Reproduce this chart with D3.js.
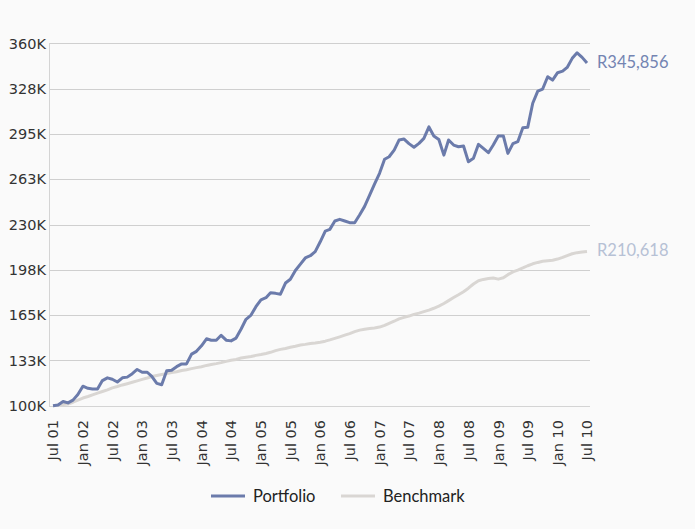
<!DOCTYPE html>
<html>
<head>
<meta charset="utf-8">
<script src="https://cdn.jsdelivr.net/npm/d3@7"></script>
<style>
  html, body { margin: 0; padding: 0; background: #fafafa; }
  svg { display: block; }
</style>
</head>
<body>
<svg id="chart" width="695" height="529"></svg>
<script>
// monthly values in thousands, Jul 2001 .. Jul 2010
const portfolio = [100,100.5,103,102,104,108,114,112.5,112,112,
  118,120,119,117,120,120.5,123,126,124,124,
  121,116,115,125,125.5,128,130,130,137,139,
  143,148,147,147,150.5,147,146.5,148.5,155,162,
  165,171,176,177.5,181,180.6,180,188,190.7,197,
  201.6,206,207.6,210.5,217.6,225.3,226.5,232.5,233.7,232.5,
  231.3,231.3,237,243,251,259,266.7,276.8,278.6,283.4,
  290.6,291.3,288,285.4,288.2,291.8,300,293.5,291,279.8,
  290.6,287,285.8,286.3,275,277.5,287.5,284.6,281.5,287,
  293.5,293.5,281,288,289.4,299.4,299.7,317,325.7,327.2,
  336,333.6,338.9,340,342.7,349.2,353.2,349.9,345.856];

const benchmark = [100,100.3,100.8,101.2,102.5,104,105.5,106.6,107.8,109,
  110.2,111.4,112.8,113.8,114.9,115.8,116.8,117.8,118.9,119.9,
  120.9,121.7,122.4,123,123.8,124.4,125.3,125.8,126.6,127.3,
  128,128.9,129.6,130.2,130.9,131.8,132.6,133.2,134.2,134.8,
  135.3,136.1,136.7,137.5,138.3,139.5,140.4,141.1,141.9,142.6,
  143.5,144,144.6,145,145.5,146.3,147.2,148.3,149.4,150.6,
  151.7,153.1,154.2,154.9,155.4,155.8,156.4,157.6,159,160.6,
  162.3,163.4,164.3,165.5,166.4,167.5,168.6,169.9,171.4,173.3,
  175.4,177.6,179.6,181.8,184.3,187.3,189.6,190.6,191.2,191.6,
  190.8,191.8,194,196,197.3,198.8,200.4,201.8,202.8,203.6,
  204,204.4,205.2,206.4,207.7,209,209.8,210.2,210.618];

const yTicks = [100, 132.5, 165, 197.5, 230, 262.5, 295, 327.5, 360];
const yTickLabels = ['100K','133K','165K','198K','230K','263K','295K','328K','360K'];
const seriesNames = ['Portfolio', 'Benchmark'];
const seriesColors = ['#6b7bab', '#d9d6d3'];
const labelColors = ['#7384b2', '#b6c1d5'];

const months = d3.timeMonth.range(new Date(2001, 6, 1), new Date(2010, 7, 1));

const svg = d3.select('#chart');
const plot = { left: 49, right: 590, top: 43, bottom: 406 };

const x = d3.scaleTime()
  .domain([months[0], months[months.length - 1]])
  .range([53, 587]);
const y = d3.scaleLinear().domain([100, 360]).range([405.7, 43.3]);

// grid
svg.append('g').selectAll('line')
  .data(yTicks.slice(1))
  .join('line')
  .attr('x1', plot.left).attr('x2', plot.right)
  .attr('y1', d => Math.round(y(d)) + 0.5).attr('y2', d => Math.round(y(d)) + 0.5)
  .attr('stroke', '#cfcfcf').attr('stroke-width', 1);

// axis lines
svg.append('line')
  .attr('x1', plot.left + 0.5).attr('x2', plot.left + 0.5)
  .attr('y1', plot.top).attr('y2', plot.bottom)
  .attr('stroke', '#d4d4d4');
svg.append('line')
  .attr('x1', plot.left).attr('x2', plot.right)
  .attr('y1', Math.round(y(100)) + 0.5).attr('y2', Math.round(y(100)) + 0.5)
  .attr('stroke', '#d4d4d4');

// y labels
svg.append('g').selectAll('text')
  .data(yTicks)
  .join('text')
  .attr('x', 46).attr('y', d => y(d))
  .attr('dy', '0.36em')
  .attr('text-anchor', 'end')
  .attr('font-family', 'DejaVu Sans, sans-serif')
  .attr('font-size', 14.5)
  .attr('fill', '#333')
  .text((d, i) => yTickLabels[i]);

// x labels, every 6 months
const fmt = d3.timeFormat('%b %y');
svg.append('g').selectAll('text')
  .data(x.ticks(d3.timeMonth.every(6)))
  .join('text')
  .attr('transform', d => `translate(${x(d)},420) rotate(-90)`)
  .attr('dy', '0.36em')
  .attr('text-anchor', 'end')
  .attr('font-family', 'DejaVu Sans, sans-serif')
  .attr('font-size', 14.5)
  .attr('fill', '#333')
  .text(d => fmt(d));

// lines (benchmark underneath)
const line = d3.line().x((d, i) => x(months[i])).y(d => y(d));
const series = [portfolio, benchmark];
[1, 0].forEach(k => {
  svg.append('path')
    .datum(series[k])
    .attr('d', line)
    .attr('fill', 'none')
    .attr('stroke', seriesColors[k])
    .attr('stroke-width', 3)
    .attr('stroke-linejoin', 'round');
});

// end labels
const money = d3.format(',');
series.forEach((s, k) => {
  const v = s[s.length - 1];
  svg.append('text')
    .attr('x', 597).attr('y', y(v) - 1)
    .attr('dy', '0.36em')
    .attr('font-family', 'Lato, sans-serif')
    .attr('font-size', 16.5)
    .attr('fill', labelColors[k])
    .text('R' + money(Math.round(v * 1000)));
});

// legend
const legend = svg.append('g').attr('transform', 'translate(211,496)');
const legendX = [0, 130];
seriesNames.forEach((name, k) => {
  const g = legend.append('g').attr('transform', `translate(${legendX[k]},0)`);
  g.append('line').attr('x1', 0).attr('x2', 34).attr('y1', 0).attr('y2', 0)
    .attr('stroke', seriesColors[k]).attr('stroke-width', 3);
  g.append('text').attr('x', 42).attr('dy', '0.36em')
    .attr('font-family', 'Lato, sans-serif')
    .attr('font-size', 16.5)
    .attr('fill', '#222')
    .text(name);
});
</script>
</body>
</html>
